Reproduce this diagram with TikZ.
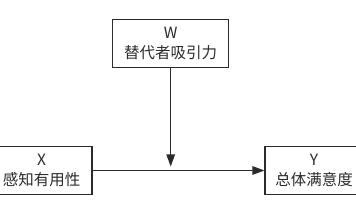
\documentclass[tikz,border=0pt]{standalone}
\usepackage{fontspec}
\setmainfont{Noto Sans CJK SC}
\usetikzlibrary{arrows.meta}
\definecolor{ink}{HTML}{2B2B2B}
\begin{document}
\begin{tikzpicture}[x=1pt,y=-1pt,
  box/.style={draw=ink,line width=1.1pt,minimum height=48pt,inner sep=0pt,align=center,text=ink,font=\fontsize{15.5pt}{20pt}\selectfont},
  conn/.style={draw=ink,line width=1.1pt,-{Triangle[length=12pt,width=8.5pt]}}]
\useasboundingbox (0,0) rectangle (356,200);
\begin{scope}
\clip (0,0) rectangle (356,200);
\node[box,minimum width=116pt] (W) at (170.7,43.2) {W\\替代者吸引力};
\node[box,minimum width=101pt] (X) at (41.5,170.5) {X\\感知有用性};
\node[box,minimum width=98pt] (Y) at (314,170.5) {Y\\总体满意度};
\coordinate (m) at (170.7,166.5);
\draw[conn] (W.south) -- (m);
\draw[conn] (X.east) -- (Y.west);
\end{scope}
\end{tikzpicture}
\end{document}
